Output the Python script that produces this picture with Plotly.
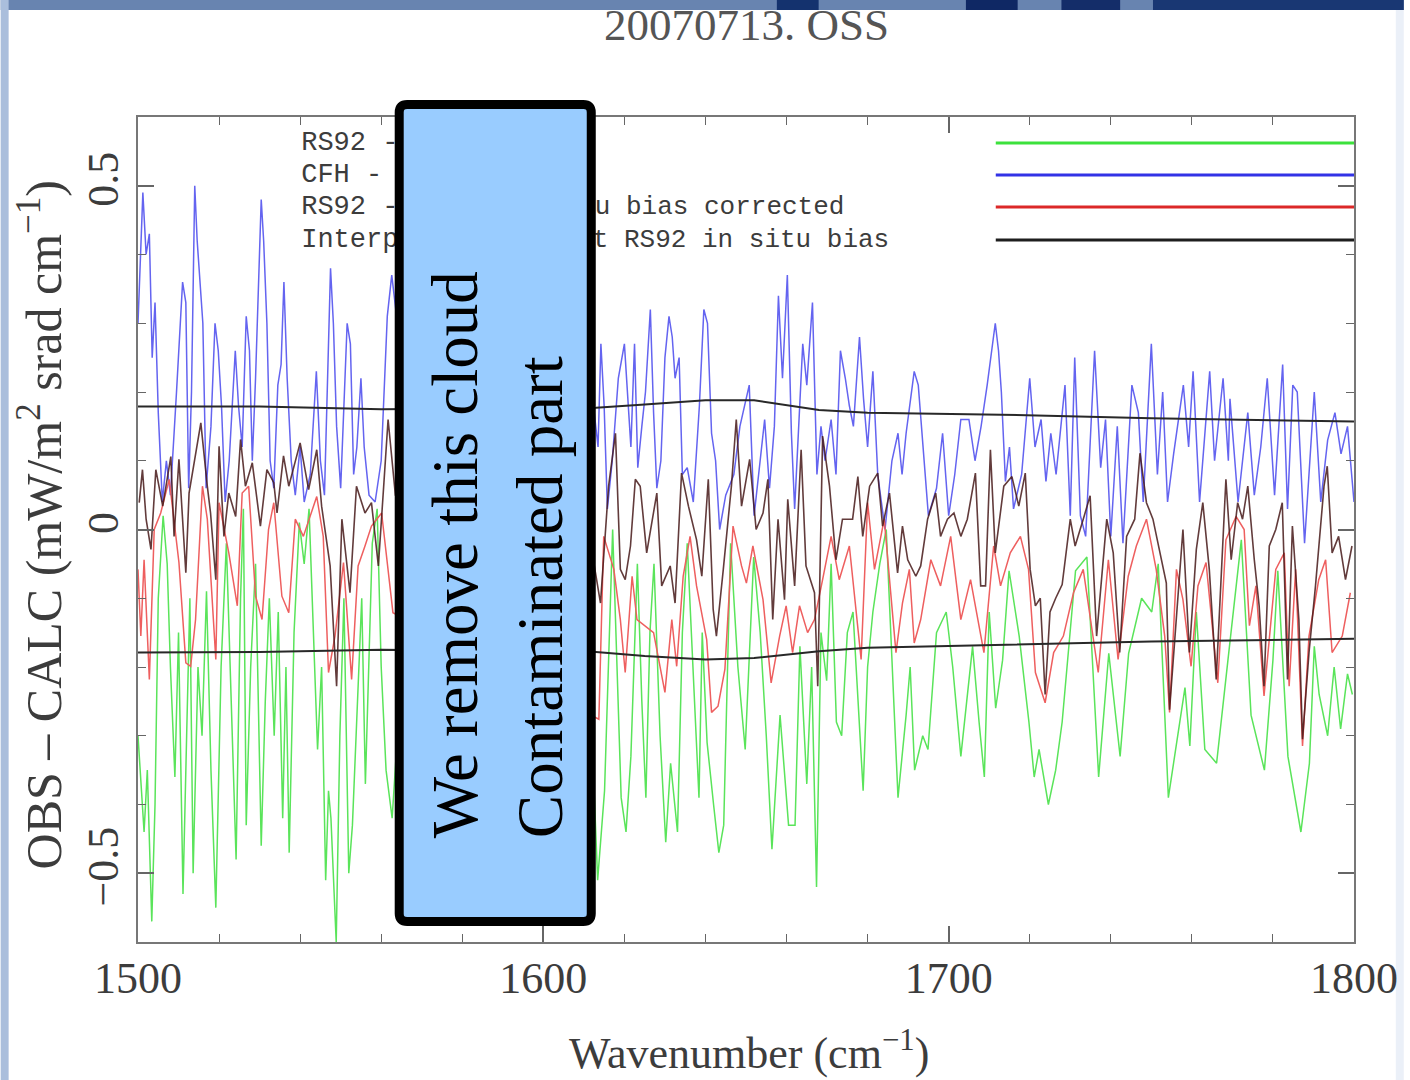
import plotly.graph_objects as go

# ---------------- data ----------------
title_text = "20070713. OSS"

blue_x = [1500.0, 1501.2, 1502.0, 1502.8, 1503.5, 1504.2, 1505.0, 1506.0, 1507.0, 1508.0,
          1509.5, 1511.0, 1511.8, 1512.5, 1513.2, 1514.0, 1514.6, 1515.3, 1516.0, 1516.8,
          1518.0, 1519.0, 1519.8, 1520.6, 1521.5, 1522.5, 1524.0, 1524.8, 1525.7, 1526.7,
          1527.5, 1528.2, 1529.0, 1530.4, 1531.0, 1531.8, 1532.6, 1533.5, 1534.5, 1535.3,
          1536.0, 1536.8, 1537.8, 1538.8, 1540.0, 1541.0, 1542.5, 1544.0, 1545.0, 1546.0,
          1547.5, 1548.2, 1549.0, 1550.0, 1551.6, 1552.4, 1553.2, 1554.0, 1555.0, 1555.8,
          1557.0, 1558.5, 1560.0, 1561.5, 1562.6, 1564.0,
          1612.0, 1613.5, 1614.2, 1615.0, 1615.8, 1617.0, 1618.5, 1620.0, 1620.8, 1621.6,
          1622.5, 1623.3, 1624.3, 1625.2, 1626.4, 1627.2, 1628.0, 1629.0, 1630.0, 1631.0,
          1631.8, 1632.5, 1633.5, 1634.3, 1635.5, 1637.0, 1638.5, 1639.6, 1640.5, 1641.5,
          1642.5, 1643.5, 1645.0, 1647.0, 1648.5, 1650.8, 1652.0, 1653.5, 1654.6, 1655.8,
          1657.0, 1658.0, 1659.0, 1660.2, 1661.2, 1662.0, 1663.0, 1664.0, 1665.0, 1666.4,
          1667.5, 1668.5, 1669.5, 1671.0, 1672.2, 1673.3, 1674.5, 1675.5, 1676.5, 1678.0,
          1679.0, 1680.0, 1681.3, 1682.5, 1684.3, 1686.0, 1687.5, 1688.5, 1689.5, 1691.5,
          1692.5, 1693.4, 1695.0, 1697.0, 1698.5, 1700.0, 1701.5, 1703.0, 1705.0, 1706.5,
          1708.0, 1709.5, 1711.5, 1712.3, 1713.0, 1714.0, 1715.0, 1716.0, 1718.0, 1720.0,
          1721.3, 1722.8, 1724.0, 1725.2, 1726.5, 1728.7, 1730.0, 1731.1, 1732.5, 1733.8,
          1736.0, 1737.5, 1738.7, 1740.0, 1741.6, 1743.0, 1745.2, 1746.8, 1748.0, 1750.0,
          1751.5, 1752.8, 1754.0, 1755.5, 1757.9, 1759.2, 1760.3, 1761.9, 1764.4, 1765.6,
          1767.7, 1769.0, 1769.4, 1771.4, 1773.8, 1775.4, 1777.0, 1778.6, 1780.4, 1782.4,
          1783.6, 1784.9, 1786.0, 1787.8, 1790.2, 1791.8, 1793.5, 1795.3, 1796.8, 1798.4,
          1800.0]
blue_y = [0.30, 0.49, 0.40, 0.43, 0.25, 0.33, 0.17, 0.04, 0.10, 0.05,
          0.20, 0.36, 0.33, 0.06, 0.20, 0.50, 0.42, 0.36, 0.30, 0.06,
          0.15, 0.30, 0.26, 0.18, 0.04, 0.10, 0.26, 0.18, 0.12, 0.31,
          0.26, 0.10, 0.22, 0.48, 0.42, 0.30, 0.10, 0.06, 0.21, 0.24,
          0.36, 0.22, 0.10, 0.05, 0.12, 0.04, 0.08, 0.23, 0.10, 0.05,
          0.38, 0.30, 0.15, 0.06, 0.30, 0.27, 0.08, 0.12, 0.22, 0.12,
          0.05, 0.04, 0.10, 0.31, 0.37, 0.30,
          0.20, 0.12, 0.27, 0.18, 0.03, 0.10, 0.22, 0.27, 0.20, 0.12,
          0.27, 0.09, 0.15, 0.20, 0.32, 0.17, 0.06, 0.10, 0.25, 0.31,
          0.28, 0.22, 0.25, 0.08, 0.09, 0.04, 0.18, 0.32, 0.30, 0.14,
          0.10, 0.00, 0.05, 0.08, 0.15, 0.21, 0.02, 0.10, 0.16, 0.06,
          0.15, 0.34, 0.22, 0.37, 0.14, 0.03, 0.14, 0.27, 0.21, 0.33,
          0.08, 0.15, 0.10, 0.16, 0.08, 0.26, 0.22, 0.18, 0.15, 0.28,
          0.19, 0.12, 0.23, 0.08, 0.00, 0.10, 0.14, 0.08, 0.14, 0.23,
          0.21, 0.14, 0.02, 0.06, 0.14, 0.02, 0.08, 0.16, 0.16, 0.10,
          0.15, 0.21, 0.30, 0.26, 0.20, 0.07, 0.12, 0.03, 0.08, 0.22,
          0.12, 0.16, 0.07, 0.14, 0.08, 0.21, 0.02, 0.25, 0.02, -0.01,
          0.26, 0.09, 0.16, -0.01, 0.15, -0.02, 0.21, 0.17, 0.04, 0.27,
          0.08, 0.20, 0.04, 0.11, 0.21, 0.12, 0.23, 0.04, 0.23, 0.10,
          0.22, 0.10, 0.19, 0.04, 0.17, 0.05, 0.12, 0.22, 0.05, 0.24,
          0.03, 0.21, 0.20, -0.02, 0.20, 0.04, 0.13, 0.17, 0.11, 0.15,
          0.04]

green_x = [1500.0, 1500.8, 1501.5, 1502.3, 1503.4, 1504.2, 1505.0, 1506.2, 1507.2, 1508.0,
           1509.1, 1510.0, 1511.1, 1512.0, 1512.8, 1513.6, 1514.8, 1515.8, 1516.9, 1518.0,
           1519.2, 1520.5, 1521.8, 1523.0, 1524.2, 1525.3, 1526.0, 1526.7, 1527.8, 1529.0,
           1530.4, 1531.4, 1532.4, 1533.6, 1534.6, 1535.7, 1536.5, 1537.3, 1538.5, 1539.8,
           1541.0, 1542.2, 1543.2, 1544.3, 1545.3, 1546.3, 1547.0, 1547.6, 1548.9, 1549.8,
           1550.8, 1552.0, 1552.9, 1554.2, 1555.2, 1556.1, 1557.0, 1557.8, 1559.0, 1560.0,
           1561.2, 1562.7, 1564.0,
           1612.0, 1613.4, 1615.1, 1617.1, 1618.2, 1619.2, 1620.4, 1621.6, 1623.2, 1624.3,
           1625.3, 1626.3, 1627.3, 1628.8, 1630.2, 1631.4, 1633.1, 1634.3, 1635.5, 1637.0,
           1638.4, 1639.2, 1640.4, 1642.0, 1643.3, 1644.5, 1646.2, 1648.0, 1649.8, 1651.9,
           1653.5, 1655.0, 1656.4, 1658.4, 1660.5, 1662.1, 1663.3, 1665.0, 1666.2, 1667.4,
           1668.5, 1669.9, 1671.0, 1672.3, 1673.6, 1675.0, 1676.4, 1678.9, 1680.0, 1681.3,
           1683.0, 1684.6, 1686.0, 1687.5, 1689.5, 1690.5, 1691.6, 1693.6, 1694.9, 1697.0,
           1699.4, 1701.0, 1703.0, 1705.9, 1707.5, 1708.8, 1710.0, 1711.6, 1713.3, 1714.9,
           1717.4, 1719.8, 1721.1, 1722.3, 1724.6, 1726.4, 1728.0, 1731.3, 1734.1, 1737.0,
           1739.5, 1742.3, 1744.4, 1747.6, 1750.1, 1751.7, 1754.2, 1755.8, 1758.3, 1759.5,
           1761.1, 1763.2, 1766.1, 1768.9, 1772.2, 1774.6, 1777.9, 1780.0, 1781.2, 1783.7,
           1786.9, 1789.0, 1790.2, 1791.4, 1793.5, 1795.1, 1796.7, 1798.4, 1799.6]
green_y = [-0.30, -0.38, -0.44, -0.35, -0.57, -0.40, -0.10, 0.02, -0.05, -0.20,
           -0.36, -0.15, -0.53, -0.30, -0.10, -0.50, -0.20, -0.30, -0.09, -0.35,
           -0.55, -0.20, -0.02, -0.25, -0.48, -0.10, 0.03, -0.43, -0.20, -0.05,
           -0.46, -0.25, -0.10, -0.30, -0.12, -0.42, -0.20, -0.47, -0.15, 0.01,
           -0.05, 0.03, -0.15, -0.32, -0.20, -0.51, -0.38, -0.42, -0.60, -0.30,
           -0.10, -0.50, -0.43, -0.25, -0.10, -0.37, -0.20, -0.02, 0.03, -0.20,
           -0.35, -0.42, -0.30,
           -0.30, -0.51, -0.38, 0.00, -0.20, -0.39, -0.44, -0.33, -0.05, -0.25,
           -0.39, -0.15, -0.05, -0.30, -0.455, -0.34, -0.44, -0.15, -0.02, -0.20,
           -0.39, -0.15, -0.31, -0.40, -0.47, -0.43, -0.02, -0.20, -0.32, -0.04,
           -0.15, -0.30, -0.465, -0.27, -0.43, -0.43, -0.17, -0.37, -0.20, -0.52,
           -0.15, -0.22, -0.05, -0.28, -0.30, -0.15, -0.12, -0.38, -0.20, -0.12,
           -0.05, 0.00, -0.20, -0.39, -0.27, -0.20, -0.35, -0.30, -0.32, -0.15,
           -0.12, -0.20, -0.33, -0.17, -0.28, -0.36, -0.12, -0.26, -0.19, -0.06,
           -0.155, -0.28, -0.36, -0.32, -0.40, -0.35, -0.28, -0.06, -0.04, -0.36,
           -0.18, -0.33, -0.18, -0.10, -0.12, -0.05, -0.39, -0.33, -0.23, -0.315,
           -0.12, -0.32, -0.34, -0.19, -0.015, -0.27, -0.35, -0.19, -0.06, -0.33,
           -0.44, -0.34, -0.17, -0.24, -0.30, -0.20, -0.29, -0.21, -0.24]

red_x = [1500.0, 1500.7, 1501.5, 1502.8, 1504.0, 1505.6, 1507.7, 1510.1, 1511.8, 1513.0,
         1514.2, 1515.9, 1517.1, 1519.2, 1520.0, 1522.4, 1524.5, 1525.7, 1527.3, 1529.0,
         1530.6, 1532.2, 1533.5, 1535.5, 1537.2, 1538.8, 1540.8, 1542.5, 1544.1, 1545.7,
         1547.0, 1548.6, 1550.7, 1552.7, 1554.3, 1556.0, 1557.6, 1560.1, 1562.9,
         1613.7, 1614.9, 1617.4, 1619.0, 1620.2, 1621.9, 1623.1, 1625.1, 1627.2, 1630.0,
         1631.7, 1632.9, 1634.5, 1636.2, 1637.8, 1640.3, 1641.5, 1643.1, 1644.8, 1646.8,
         1648.9, 1650.1, 1651.7, 1654.2, 1656.2, 1658.3, 1659.9, 1661.5, 1663.2, 1665.2,
         1666.9, 1668.9, 1671.0, 1673.0, 1675.5, 1678.4, 1680.0, 1681.7, 1684.1, 1687.0,
         1688.6, 1690.3, 1691.5, 1693.1, 1695.6, 1698.0, 1700.5, 1703.0, 1705.4, 1708.7,
         1711.1, 1712.8, 1715.2, 1717.7, 1719.7, 1721.4, 1723.8, 1725.9, 1728.3, 1730.8,
         1733.2, 1736.9, 1739.4, 1741.8, 1744.3, 1746.3, 1748.8, 1751.2, 1753.3, 1754.5,
         1756.2, 1757.8, 1759.8, 1761.5, 1763.5, 1766.4, 1768.4, 1770.9, 1772.9, 1774.2,
         1775.8, 1777.8, 1780.7, 1782.8, 1784.0, 1785.6, 1787.3, 1788.9, 1791.3, 1793.0,
         1794.6, 1797.1, 1799.1]
red_y = [-0.058, -0.155, -0.044, -0.218, 0.000, 0.024, 0.073, -0.048, -0.194, -0.199,
         -0.131, 0.063, 0.015, -0.189, 0.039, -0.034, -0.111, 0.053, 0.063, -0.097,
         -0.131, 0.000, 0.039, -0.097, -0.121, 0.015, -0.010, 0.019, 0.048, -0.010,
         -0.208, -0.155, -0.048, -0.218, -0.053, -0.024, 0.005, 0.024, -0.121,
         -0.276, -0.010, -0.058, -0.131, -0.208, -0.068, -0.131, -0.140, -0.150, -0.237,
         -0.131, -0.199, -0.068, -0.010, -0.082, -0.160, -0.266, -0.257, -0.203, 0.005,
         -0.053, -0.078, -0.024, -0.102, -0.223, -0.155, -0.111, -0.179, -0.111, -0.150,
         -0.131, -0.073, -0.010, -0.073, -0.024, -0.189, 0.039, -0.058, 0.015, -0.179,
         -0.107, -0.058, -0.165, -0.131, -0.044, -0.082, -0.010, -0.131, -0.073, -0.179,
         -0.024, -0.082, -0.034, -0.010, -0.058, -0.208, -0.252, -0.179, -0.155, -0.092,
         -0.058, -0.208, -0.044, -0.189, -0.068, -0.024, 0.015, -0.058, -0.155, -0.266,
         -0.058, -0.102, -0.199, -0.082, -0.048, -0.223, -0.015, 0.019, 0.000, -0.140,
         -0.082, -0.242, -0.058, -0.034, -0.228, -0.058, -0.315, -0.155, -0.073, -0.044,
         -0.179, -0.155, -0.092]

dark_x = [1500.3, 1501.1, 1502.0, 1503.2, 1504.4, 1506.1, 1508.1, 1508.9, 1510.1, 1511.8,
          1512.6, 1515.5, 1517.1, 1517.9, 1519.2, 1520.0, 1521.2, 1522.4, 1524.1, 1525.3,
          1526.5, 1528.2, 1530.2, 1531.8, 1533.5, 1534.3, 1535.9, 1537.2, 1540.0, 1542.1,
          1544.1, 1545.3, 1547.4, 1549.0, 1550.3, 1552.3, 1553.9, 1556.0, 1557.6, 1559.3,
          1560.5, 1561.7, 1563.5,
          1612.5, 1614.1, 1616.1, 1617.8, 1619.0, 1620.2, 1621.5, 1622.7, 1623.9, 1625.5,
          1628.0, 1629.2, 1631.3, 1632.5, 1634.1, 1635.8, 1637.8, 1639.1, 1640.7, 1641.9,
          1642.7, 1644.4, 1646.4, 1647.6, 1648.9, 1650.9, 1652.5, 1654.2, 1655.4, 1656.6,
          1657.9, 1659.5, 1660.3, 1662.0, 1663.6, 1664.8, 1666.9, 1667.7, 1668.9, 1670.6,
          1672.2, 1673.8, 1676.3, 1677.6, 1678.8, 1680.5, 1682.5, 1683.7, 1685.4, 1687.4,
          1688.6, 1689.9, 1691.9, 1693.1, 1694.8, 1696.8, 1698.0, 1699.7, 1701.3, 1703.0,
          1704.6, 1706.6, 1707.9, 1709.1, 1710.3, 1711.5, 1713.6, 1715.6, 1717.3, 1718.9,
          1720.1, 1721.4, 1722.6, 1723.8, 1725.0, 1726.4, 1728.0, 1730.0, 1731.2, 1733.2,
          1734.9, 1736.5, 1739.0, 1740.6, 1742.2, 1743.9, 1745.9, 1747.2, 1748.8, 1750.4,
          1752.1, 1753.7, 1754.5, 1756.2, 1757.8, 1759.4, 1761.1, 1762.7, 1764.3, 1766.0,
          1767.2, 1768.4, 1769.7, 1771.3, 1772.5, 1773.8, 1775.4, 1776.6, 1777.8, 1779.1,
          1780.7, 1782.3, 1783.6, 1784.8, 1786.4, 1787.3, 1788.9, 1790.5, 1792.6, 1793.4,
          1794.6, 1796.2, 1797.9, 1799.5]
dark_y = [0.039, 0.087, 0.015, -0.029, 0.087, 0.034, 0.106, -0.010, 0.102, -0.063,
          0.053, 0.155, 0.063, 0.024, -0.073, 0.121, -0.010, 0.053, 0.019, 0.131,
          0.063, 0.097, 0.005, 0.087, 0.068, 0.024, 0.107, 0.063, 0.126, 0.058,
          0.116, 0.034, -0.053, -0.228, 0.015, -0.092, 0.063, 0.024, 0.039, -0.053,
          0.053, 0.160, 0.050,
          -0.050, -0.107, 0.063, 0.140, -0.058, -0.073, -0.024, 0.073, 0.063, -0.034,
          0.053, -0.082, -0.053, -0.107, 0.082, 0.034, -0.015, -0.068, 0.073, -0.116,
          -0.155, -0.058, 0.063, 0.160, 0.034, 0.102, 0.000, 0.024, 0.073, -0.131,
          0.015, -0.102, 0.044, -0.082, 0.116, -0.053, -0.092, -0.228, 0.136, 0.063,
          -0.044, 0.015, 0.015, 0.077, -0.010, 0.063, 0.082, 0.005, 0.053, -0.063,
          0.005, -0.044, -0.068, -0.053, 0.015, 0.053, -0.010, 0.015, 0.024, -0.010,
          0.015, 0.082, -0.082, -0.082, 0.116, -0.034, 0.063, 0.077, 0.034, 0.082,
          -0.058, -0.111, -0.100, -0.240, -0.120, -0.100, -0.080, 0.015, -0.024, 0.015,
          0.049, -0.155, 0.015, -0.034, -0.179, -0.010, 0.015, 0.111, 0.039, 0.015,
          -0.034, -0.078, -0.262, -0.131, 0.000, -0.179, -0.029, 0.039, -0.058, -0.218,
          -0.082, 0.073, -0.044, 0.039, 0.015, 0.063, -0.044, -0.111, -0.228, -0.024,
          0.000, 0.039, -0.218, 0.005, -0.131, -0.305, -0.179, -0.082, 0.063, 0.092,
          -0.034, -0.010, -0.073, -0.024]

env_x = [1500, 1530, 1560, 1613, 1625, 1640, 1652, 1668, 1680, 1713, 1750, 1800]
env_upper = [0.179, 0.179, 0.175, 0.177, 0.182, 0.188, 0.188, 0.174, 0.170, 0.167, 0.162, 0.157]
env_lower = [-0.179, -0.178, -0.175, -0.178, -0.184, -0.189, -0.187, -0.177, -0.172, -0.168, -0.163, -0.159]

legend_left = ["RS92 -", "CFH -", "RS92 -", "Interp"]
legend_right = ["u bias corrected", "t RS92 in situ bias"]
legend_colors = ["rgb(60,225,60)", "rgb(50,50,230)", "rgb(220,40,40)", "rgb(30,30,30)"]

x_ticks = [1500, 1600, 1700, 1800]
y_ticks = [-0.5, 0, 0.5]
y_ticktext = ["\u22120.5", "0", "0.5"]

# ---------------- geometry helpers (pixel -> paper) ----------------
W, H = 1410, 1080
L, R, T, B = 138, 1360, 117, 942


def px(x):
    return (x - L) / (R - L)


def py(y):
    return (B - y) / (B - T)


def dx(x):
    return 1500 + (x - L) / (R - L) * 300


def dy(y):
    return 0.6 - (y - T) / (B - T) * 1.2


SERIF = "Liberation Serif"
MONO = "Liberation Mono"
TXT = "#3c3c3c"

fig = go.Figure()
fig.add_trace(go.Scatter(x=green_x, y=green_y, mode="lines", name="RS92",
                         line=dict(color="rgb(90,228,90)", width=1.5), showlegend=False))
fig.add_trace(go.Scatter(x=blue_x, y=blue_y, mode="lines", name="CFH",
                         line=dict(color="rgb(100,100,240)", width=1.5), showlegend=False))
fig.add_trace(go.Scatter(x=red_x, y=red_y, mode="lines", name="RS92 in situ bias corrected",
                         line=dict(color="rgb(238,95,95)", width=1.5), showlegend=False))
fig.add_trace(go.Scatter(x=dark_x, y=dark_y, mode="lines", name="RS92 (dark)",
                         line=dict(color="rgba(70,25,25,0.85)", width=1.6), showlegend=False))
fig.add_trace(go.Scatter(x=env_x, y=env_upper, mode="lines", name="Interp. RS92 in situ bias",
                         line=dict(color="rgb(40,40,40)", width=2), showlegend=False))
fig.add_trace(go.Scatter(x=env_x, y=env_lower, mode="lines", showlegend=False,
                         line=dict(color="rgb(40,40,40)", width=2)))

# legend labels (drawn in the data layer so that the blue box hides part of them)
leg_rows = [143, 175, 207, 240]
fig.add_trace(go.Scatter(x=[dx(302)] * 4, y=[dy(r) for r in leg_rows], mode="text",
                         text=legend_left, textposition="middle right",
                         textfont=dict(family=MONO, size=27, color=TXT),
                         showlegend=False, hoverinfo="skip", cliponaxis=False))
fig.add_trace(go.Scatter(x=[dx(597), dx(595)], y=[dy(r) for r in leg_rows[2:]], mode="text",
                         text=legend_right, textposition="middle right",
                         textfont=dict(family=MONO, size=26, color=TXT),
                         showlegend=False, hoverinfo="skip", cliponaxis=False))

shapes = []
# slide background bits (top band and left strip)
shapes.append(dict(type="rect", xref="paper", yref="paper", x0=px(0), x1=px(W), y0=py(10), y1=py(0),
                   fillcolor="rgb(104,132,176)", line=dict(width=0), layer="below"))
for a, b, c in [(780, 822, "rgb(20,50,110)"), (970, 1022, "rgb(15,40,100)"),
                (1066, 1125, "rgb(20,45,105)"), (1158, 1410, "rgb(25,55,115)")]:
    shapes.append(dict(type="rect", xref="paper", yref="paper", x0=px(a), x1=px(b), y0=py(10), y1=py(0),
                       fillcolor=c, line=dict(width=0), layer="below"))
shapes.append(dict(type="rect", xref="paper", yref="paper", x0=px(0), x1=px(8), y0=py(H), y1=py(0),
                   fillcolor="rgb(170,190,220)", line=dict(width=0), layer="below"))
shapes.append(dict(type="rect", xref="paper", yref="paper", x0=px(1402), x1=px(W), y0=py(H), y1=py(10),
                   fillcolor="rgb(235,240,248)", line=dict(width=0), layer="below"))

# legend line samples
for r, c in zip(leg_rows, legend_colors):
    shapes.append(dict(type="line", xref="paper", yref="paper", x0=px(1000), x1=px(1360),
                       y0=py(r), y1=py(r), line=dict(color=c, width=3)))

# blue overlay box with rounded corners
bx0, bx1, by0, by1 = 400.5, 593.5, 104.5, 921.5
rr = 8


def P(x, y):
    return f"{px(x):.5f},{py(y):.5f}"


path = (f"M {P(bx0 + rr, by0)} L {P(bx1 - rr, by0)} Q {P(bx1, by0)} {P(bx1, by0 + rr)} "
        f"L {P(bx1, by1 - rr)} Q {P(bx1, by1)} {P(bx1 - rr, by1)} "
        f"L {P(bx0 + rr, by1)} Q {P(bx0, by1)} {P(bx0, by1 - rr)} "
        f"L {P(bx0, by0 + rr)} Q {P(bx0, by0)} {P(bx0 + rr, by0)} Z")
shapes.append(dict(type="path", xref="paper", yref="paper", path=path,
                   fillcolor="rgb(153,204,255)", line=dict(color="black", width=9), layer="above"))

annotations = [
    dict(text=title_text, xref="paper", yref="paper", x=px(749), y=py(25), showarrow=False,
         font=dict(family=SERIF, size=45, color="#555"), xanchor="center", yanchor="middle"),
    dict(text="We remove this cloud<br>Contaminated part", xref="paper", yref="paper",
         x=px(499), y=py(555), showarrow=False, textangle=-90, align="left",
         font=dict(family=SERIF, size=65, color="black"), xanchor="center", yanchor="middle"),
    dict(text="OBS \u2013 CALC (mW/m<sup>2</sup> srad cm<sup>\u22121</sup>)", xref="paper", yref="paper",
         x=px(40), y=py(525), showarrow=False, textangle=-90,
         font=dict(family=SERIF, size=50, color=TXT), xanchor="center", yanchor="middle"),
    dict(text="Wavenumber (cm<sup>\u22121</sup>)", xref="paper", yref="paper",
         x=px(752), y=py(1050), showarrow=False,
         font=dict(family=SERIF, size=44, color=TXT), xanchor="center", yanchor="middle"),
]

fig.update_layout(
    width=W, height=H,
    margin=dict(l=L, r=W - R, t=T, b=H - B, pad=0),
    paper_bgcolor="white", plot_bgcolor="white",
    showlegend=False,
    shapes=shapes, annotations=annotations,
    xaxis=dict(range=[1500, 1800], tickvals=x_ticks, ticks="inside", ticklen=16, tickwidth=1.5,
               tickcolor="#666", showline=True, linecolor="#777", linewidth=2, mirror="allticks",
               showgrid=False, zeroline=False, ticklabelstandoff=-4,
               tickfont=dict(family=SERIF, size=44, color=TXT),
               minor=dict(dtick=20, tick0=1500, ticks="inside", ticklen=8, tickcolor="#666", tickwidth=1.2)),
    yaxis=dict(range=[-0.6, 0.6], tickvals=y_ticks, ticktext=y_ticktext, ticks="inside", ticklen=16,
               tickwidth=1.5, tickcolor="#666", showline=True, linecolor="#777", linewidth=2,
               mirror="allticks", showgrid=False, zeroline=False, tickangle=-90,
               tickfont=dict(family=SERIF, size=44, color=TXT),
               minor=dict(dtick=0.1, tick0=0, ticks="inside", ticklen=8, tickcolor="#666", tickwidth=1.2)),
)

fig.write_html("out.html")
